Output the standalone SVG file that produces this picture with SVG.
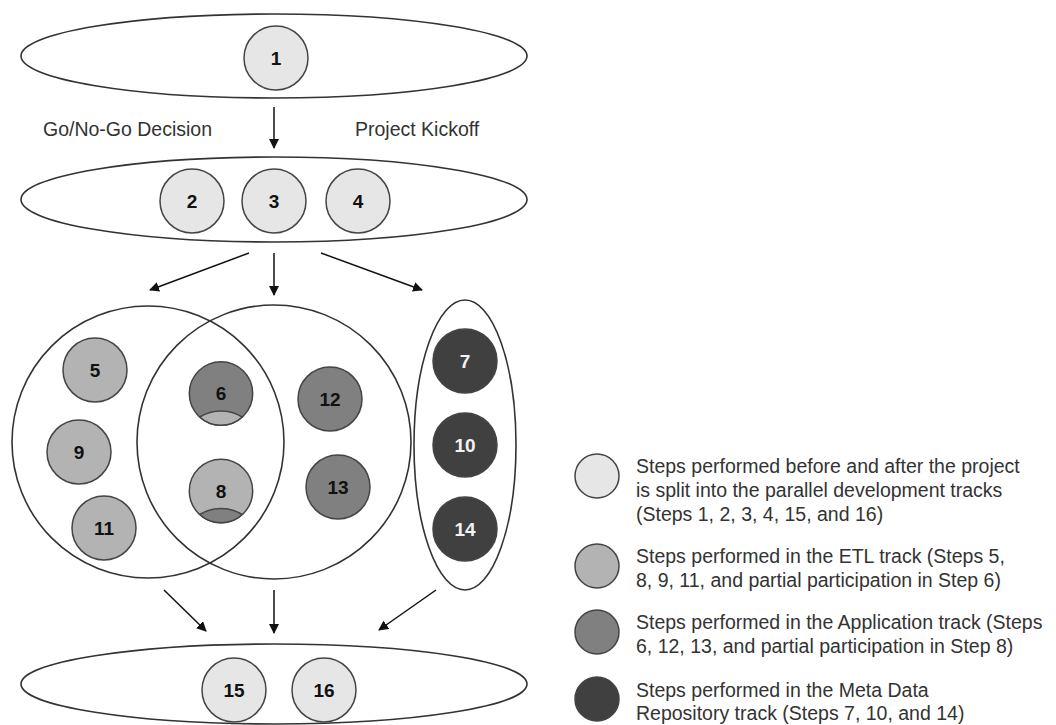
<svg xmlns="http://www.w3.org/2000/svg" width="1056" height="725" viewBox="0 0 1056 725">
<defs>
<marker id="ah" viewBox="0 0 10 10" refX="9" refY="5" markerWidth="10" markerHeight="10" markerUnits="userSpaceOnUse" orient="auto">
<path d="M0,0 L10,5 L0,10 z" fill="#111"/>
</marker>
<style>
.grp{fill:none;stroke:#333;stroke-width:1.6}
.c{stroke:#444;stroke-width:1.5}
.l0{fill:#e6e6e6}
.l1{fill:#b3b3b3}
.l2{fill:#808080}
.l3{fill:#404040}
.n{font-family:"Liberation Sans",Arial,sans-serif;font-size:19px;font-weight:bold;fill:#111;text-anchor:middle}
.nw{fill:#f2f2f2}
.t{font-family:"Liberation Sans",Arial,sans-serif;font-size:19.5px;fill:#333}
.ar{stroke:#111;stroke-width:1.5;fill:none;marker-end:url(#ah)}
</style>
</defs>
<rect width="1056" height="725" fill="#fff"/>
<g id="phase-top"><ellipse class="grp" cx="274" cy="56" rx="253" ry="42"/></g>
<g id="phase-mid"><ellipse class="grp" cx="274" cy="199.5" rx="253" ry="42.5"/></g>
<g id="phase-bottom"><ellipse class="grp" cx="274" cy="684" rx="253" ry="40"/></g>
<g id="track-etl"><circle class="grp" cx="148" cy="442" r="136"/></g>
<g id="track-app"><circle class="grp" cx="274" cy="442" r="137"/></g>
<g id="track-meta"><ellipse class="grp" cx="465" cy="445" rx="51" ry="145"/></g>
<g id="step1"><circle class="c l0" cx="276" cy="58" r="32"/><text class="n" x="276" y="65">1</text></g>
<g id="step2"><circle class="c l0" cx="192" cy="201" r="32"/><text class="n" x="192" y="208">2</text></g>
<g id="step3"><circle class="c l0" cx="274" cy="201" r="32"/><text class="n" x="274" y="208">3</text></g>
<g id="step4"><circle class="c l0" cx="358" cy="201" r="32"/><text class="n" x="358" y="208">4</text></g>
<g id="step5"><circle class="c l1" cx="95" cy="370" r="32"/><text class="n" x="95" y="377">5</text></g>
<g id="step9"><circle class="c l1" cx="79" cy="452" r="32"/><text class="n" x="79" y="459">9</text></g>
<g id="step11"><circle class="c l1" cx="104" cy="528" r="32"/><text class="n" x="104" y="535">11</text></g>
<g id="step6"><circle class="c l2" cx="221" cy="393.5" r="31.7"/><path class="c l1" d="M199.7,417 A31.7,31.7 0 0 0 242.3,417 A40.8,40.8 0 0 0 199.7,417 Z"/><text class="n" x="221" y="400">6</text></g>
<g id="step8"><circle class="c l1" cx="221" cy="491" r="31.7"/><path class="c l2" d="M199.7,514.5 A31.7,31.7 0 0 0 242.3,514.5 A40.8,40.8 0 0 0 199.7,514.5 Z"/><text class="n" x="221" y="497.5">8</text></g>
<g id="step12"><circle class="c l2" cx="330" cy="399" r="32"/><text class="n" x="330" y="406">12</text></g>
<g id="step13"><circle class="c l2" cx="338" cy="487" r="32"/><text class="n" x="338" y="494">13</text></g>
<g id="step7"><circle class="c l3" cx="465" cy="361" r="32"/><text class="n nw" x="465" y="368">7</text></g>
<g id="step10"><circle class="c l3" cx="465" cy="445" r="32"/><text class="n nw" x="465" y="452">10</text></g>
<g id="step14"><circle class="c l3" cx="465" cy="529" r="32"/><text class="n nw" x="465" y="536">14</text></g>
<g id="step15"><circle class="c l0" cx="234" cy="690" r="32"/><text class="n" x="234" y="697">15</text></g>
<g id="step16"><circle class="c l0" cx="324" cy="690" r="32"/><text class="n" x="324" y="697">16</text></g>
<g id="connectors">
<line class="ar" x1="274" y1="107" x2="274" y2="148"/>
<line class="ar" x1="249" y1="253" x2="150" y2="290"/>
<line class="ar" x1="274" y1="253" x2="274" y2="295"/>
<line class="ar" x1="321" y1="253" x2="422" y2="290"/>
<line class="ar" x1="164" y1="590" x2="206" y2="631"/>
<line class="ar" x1="274" y1="590" x2="274" y2="633"/>
<line class="ar" x1="436" y1="590" x2="379" y2="630"/>
</g>
<g id="labels">
<text class="t" x="43" y="136">Go/No-Go Decision</text>
<text class="t" x="355" y="136">Project Kickoff</text>
</g>
<g id="legend">
<circle class="c l0" cx="597" cy="476" r="22"/>
<circle class="c l1" cx="597" cy="566" r="22"/>
<circle class="c l2" cx="597" cy="632" r="22"/>
<circle class="c l3" cx="597" cy="699" r="22"/>
<text class="t" x="636" y="473">Steps performed before and after the project</text>
<text class="t" x="636" y="497">is split into the parallel development tracks</text>
<text class="t" x="636" y="521">(Steps 1, 2, 3, 4, 15, and 16)</text>
<text class="t" x="636" y="563">Steps performed in the ETL track (Steps 5,</text>
<text class="t" x="636" y="587">8, 9, 11, and partial participation in Step 6)</text>
<text class="t" x="636" y="629">Steps performed in the Application track (Steps</text>
<text class="t" x="636" y="653">6, 12, 13, and partial participation in Step 8)</text>
<text class="t" x="636" y="697">Steps performed in the Meta Data</text>
<text class="t" x="636" y="720">Repository track (Steps 7, 10, and 14)</text>
</g>
</svg>
